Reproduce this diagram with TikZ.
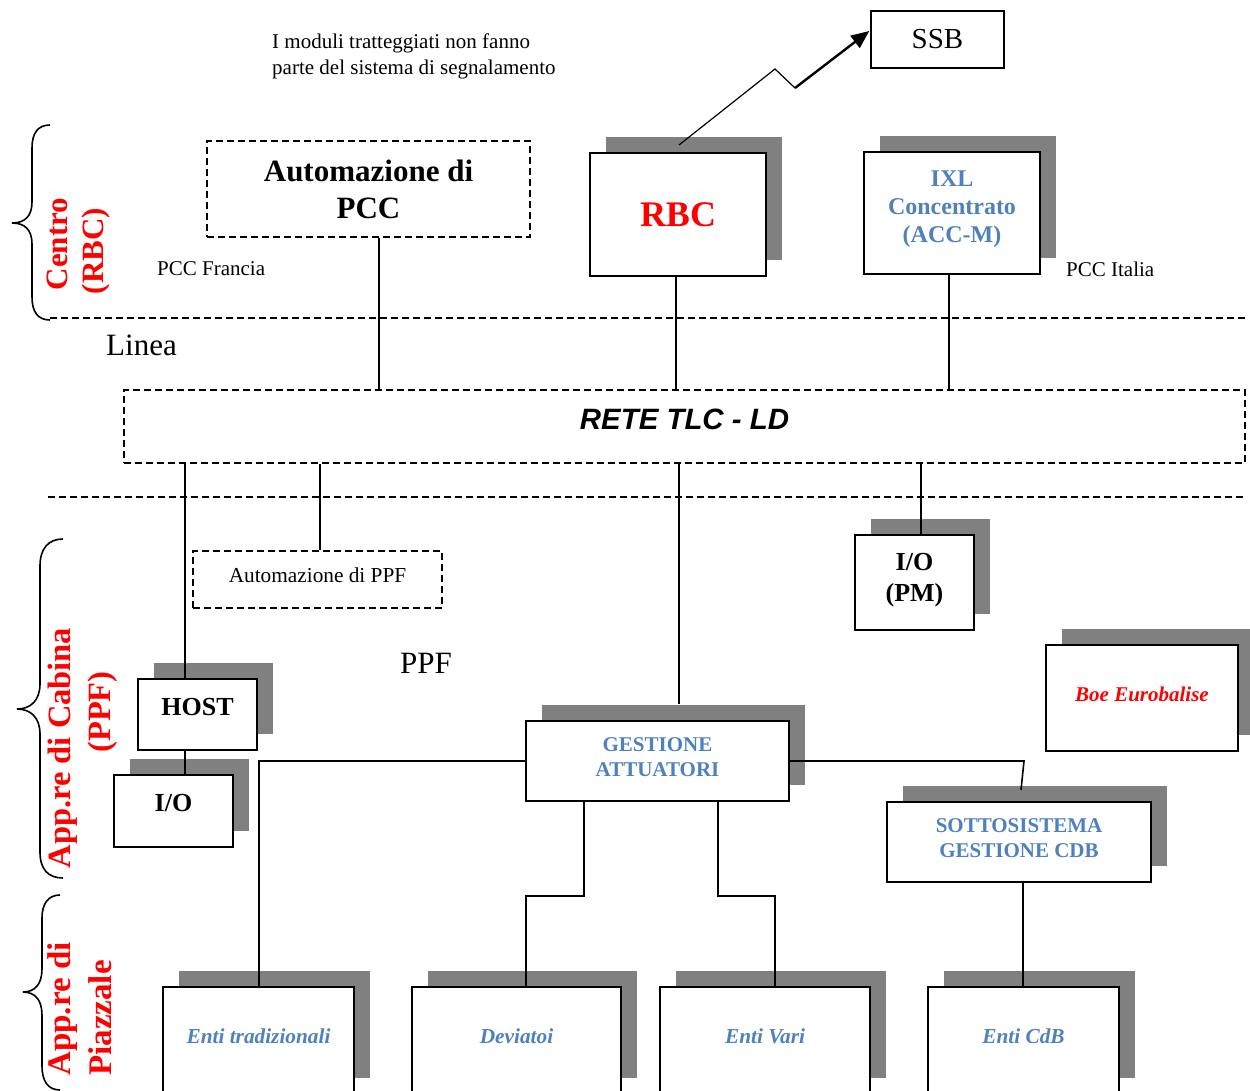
\documentclass[tikz,border=0pt]{standalone}
\usepackage{fontspec}
\setmainfont{Liberation Serif}
\newfontfamily\arialfont{Liberation Sans}
\usetikzlibrary{shadows,arrows.meta,calc}
\definecolor{shgray}{HTML}{808080}
\definecolor{wordblue}{HTML}{4F81BD}
\definecolor{pure red}{HTML}{FF0000}
\newcommand\fs[2]{\fontsize{#1}{#2}\selectfont}
% one line of text lifted inside its box, box size unchanged
\newcommand\up[2]{\raisebox{#1}[\height][\depth]{#2}}
\tikzset{
  box/.style={draw, line width=2pt, fill=white, inner sep=0pt, align=center},
  shadowed/.style={copy shadow={shadow xshift=16pt, shadow yshift=16pt, fill=shgray, draw=none}},
  dashbox/.style={draw, line width=1.6pt, dash pattern=on 7pt off 4pt, inner sep=0pt, align=center},
  wire/.style={line width=1.6pt},
  sepline/.style={line width=1.5pt, dash pattern=on 7pt off 4pt},
  brace/.style={line width=1.6pt},
  side/.style={rotate=90, text=pure red, font=\fs{#1}{36}\bfseries, inner sep=0pt},
  bluebold/.style={text=wordblue, font=\fs{21}{25}\bfseries},
  blueit/.style={text=wordblue, font=\fs{21.3}{24}\bfseries\itshape},
}
\begin{document}
\begin{tikzpicture}[x=1pt,y=-1pt]
\useasboundingbox (0,0) rectangle (1250,1091);
\clip (0,0) rectangle (1250,1091);

% note at the top
\node[anchor=west, align=left, inner sep=0pt, font=\fs{21}{26}] (note) at (272,56)
  {I moduli tratteggiati non fanno\\parte del sistema di segnalamento};

% centre level
\node[box, line width=1.5pt, minimum width=133pt, minimum height=57pt, font=\fs{29}{34}] (ssb) at (937.5,39.5) {SSB};
\node[dashbox, minimum width=323pt, minimum height=96pt, font=\fs{31}{37}\bfseries] (pcc) at (368.5,189) {Automazione di\\PCC};
\node[box, shadowed, minimum width=176pt, minimum height=123pt, text=pure red, font=\fs{36}{40}\bfseries] (rbc) at (678,214.5) {RBC};
\node[box, shadowed, minimum width=176pt, minimum height=122pt, bluebold, font=\fs{24}{28}\bfseries] (ixl) at (952,213)
  {\up{4pt}{IXL}\\\up{4pt}{Concentrato}\\\up{4pt}{(ACC-M)}};
\node[anchor=west, inner sep=0pt, font=\fs{21}{24}] (pccfr) at (157,269) {PCC Francia};
\node[anchor=west, inner sep=0pt, font=\fs{21}{24}] (pccit) at (1066,269) {PCC Italia};

% section separators
\coordinate (s1a) at (50,318);  \coordinate (s1b) at (1245,318);
\coordinate (s2a) at (48,497);  \coordinate (s2b) at (1245,497);
\draw[sepline] (s1a) -- (s1b);
\draw[sepline] (s2a) -- (s2b);

\node[anchor=west, inner sep=0pt, font=\fs{31}{36}] (linea) at (106,345) {Linea};

% network
\node[dashbox, minimum width=1121pt, minimum height=73pt, font=\arialfont\fs{29.4}{34}\bfseries\itshape] (rete) at (684.5,426.5) {\up{7pt}{RETE TLC - LD}};

% cabin level
\node[dashbox, minimum width=249pt, minimum height=57pt, font=\fs{21.3}{24}] (ppf) at (317.5,579.5) {\up{4pt}{Automazione di PPF}};
\node[box, shadowed, minimum width=119pt, minimum height=95pt, font=\fs{26}{31}\bfseries] (iopm) at (914.5,582.5)
  {\up{2pt}{I/O}\\\up{2pt}{(PM)}};
\node[anchor=west, inner sep=0pt, font=\fs{31}{36}] (ppflbl) at (400,663) {PPF};
\node[box, shadowed, minimum width=119pt, minimum height=71pt, font=\fs{26}{31}\bfseries] (host) at (197.5,714.5) {\up{7pt}{HOST}};
\node[box, shadowed, minimum width=119pt, minimum height=72pt, font=\fs{26}{31}\bfseries] (io) at (173.5,811) {\up{8pt}{I/O}};
\node[box, shadowed, minimum width=192pt, minimum height=106pt, text=pure red, font=\fs{21}{25}\bfseries\itshape] (boe) at (1142,698) {\up{4pt}{Boe Eurobalise}};
\node[box, shadowed, minimum width=263pt, minimum height=80pt, bluebold] (gest) at (657.5,761)
  {\up{4pt}{GESTIONE}\\\up{4pt}{ATTUATORI}};
\node[box, shadowed, minimum width=264pt, minimum height=80pt, bluebold] (sotto) at (1019,842)
  {\up{4pt}{SOTTOSISTEMA}\\\up{4pt}{GESTIONE CDB}};

% yard level
\node[box, shadowed, minimum width=191pt, minimum height=107pt, blueit] (ent1) at (258.5,1040.5) {\up{4pt}{Enti tradizionali}};
\node[box, shadowed, minimum width=209pt, minimum height=107pt, blueit] (dev) at (516.5,1040.5) {\up{4pt}{Deviatoi}};
\node[box, shadowed, minimum width=210pt, minimum height=107pt, blueit] (vari) at (765,1040.5) {\up{4pt}{Enti Vari}};
\node[box, shadowed, minimum width=191pt, minimum height=107pt, blueit] (cdb) at (1023.5,1040.5) {\up{4pt}{Enti CdB}};

% side labels
\node[side=31] (lc1) at (57,244) {Centro};
\node[side=31] (lc2) at (96,251) {(RBC)};
\node[side=32.5] (lp1) at (63,748) {App.re di Cabina};
\node[side=32.5] (lp2) at (103,712) {(PPF)};
\node[side=33] (lz1) at (63,1009) {App.re di};
\node[side=33] (lz2) at (100,1018) {Piazzale};

% braces
\draw[brace] (50,125) .. controls (38,125) and (32,133) .. (32,148) -- (32,202)
  .. controls (32,216) and (25,223) .. (12,223) .. controls (25,223) and (32,230) .. (32,244)
  -- (32,297) .. controls (32,312) and (38,320) .. (50,320);
\draw[brace] (63,539) .. controls (48,539) and (40,549) .. (40,566) -- (40,684)
  .. controls (40,700) and (31,709) .. (17,709) .. controls (31,709) and (40,718) .. (40,734)
  -- (40,852) .. controls (40,869) and (48,878) .. (63,878);
\draw[brace] (60,895) .. controls (48,895) and (42,904) .. (42,918) -- (42,969)
  .. controls (42,984) and (35,992) .. (23,992) .. controls (35,992) and (42,1000) .. (42,1015)
  -- (42,1066) .. controls (42,1081) and (48,1090) .. (60,1090);

% radio link RBC -> SSB
\coordinate (zz1) at (775,69);
\coordinate (zz2) at (795,88);
\draw[line width=1.2pt] ($(rbc.north)+(1,-7)$) -- (zz1) -- (zz2);
\draw[line width=2.4pt, -{Triangle[length=18pt,width=15pt]}] (zz2) -- ($(ssb.west)+(-1,-8.5)$);

% connectors to the network
\coordinate (xa) at (379,0);
\coordinate (xb) at (676,0);
\coordinate (xc) at (949,0);
\draw[wire] (pcc.south -| xa) -- (rete.north -| xa);
\draw[wire] (rbc.south -| xb) -- (rete.north -| xb);
\draw[wire] (ixl.south -| xc) -- (rete.north -| xc);

\coordinate (c1) at (185,0);
\coordinate (c2) at (320,0);
\coordinate (c3) at (679,0);
\coordinate (c4) at (921,0);
\draw[wire] (rete.south -| c1) -- (host.north -| c1);
\draw[wire] (host.south -| c1) -- (io.north -| c1);
\draw[wire] (rete.south -| c2) -- (ppf.north -| c2);
\draw[wire] (rete.south -| c3) -- ($(gest.north -| c3)+(0,-16)$);
\draw[wire] (rete.south -| c4) -- (iopm.north -| c4);

% actuator management branches
\coordinate (c5) at (259,0);
\coordinate (c6) at (1024,0);
\coordinate (c7) at (584,0);
\coordinate (c8) at (526,0);
\coordinate (c9) at (718,0);
\coordinate (c10) at (775,0);
\coordinate (c11) at (1023,0);
\coordinate (mid) at (0,896);
\draw[wire] (gest.west) -| (ent1.north -| c5);
\draw[wire] (gest.east) -- (gest.east -| c6) -- ($(sotto.north)+(2,-11)$);
\draw[wire] (gest.south -| c7) -- (mid -| c7) -- (mid -| c8) -- (dev.north -| c8);
\draw[wire] (gest.south -| c9) -- (mid -| c9) -- (mid -| c10) -- (vari.north -| c10);
\draw[wire] (sotto.south -| c11) -- (cdb.north -| c11);
\end{tikzpicture}
\end{document}
